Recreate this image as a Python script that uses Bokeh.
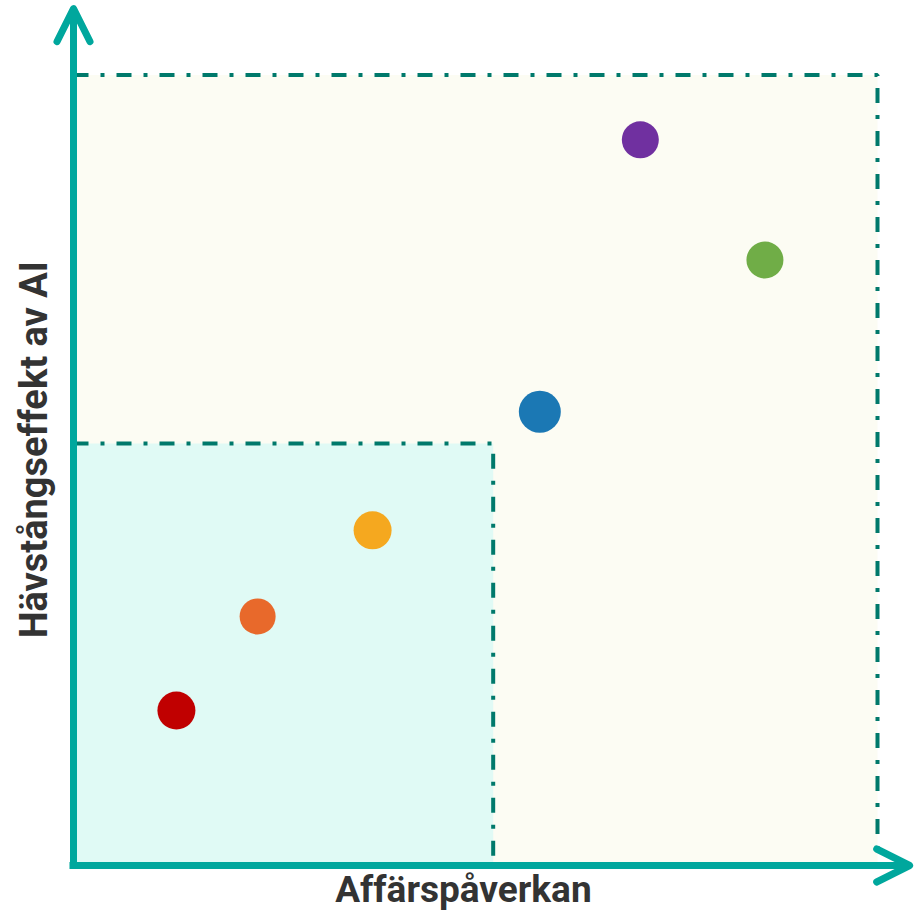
import math
from bokeh.plotting import figure
from bokeh.models import Range1d, Arrow, OpenHead, Label, ColumnDataSource
from bokeh.embed import file_html
from bokeh.resources import INLINE

# ---- data ----
x_vals = [12.8, 22.9, 37.2, 58.0, 70.5, 86.0]
y_vals = [19.6, 31.5, 42.4, 57.4, 91.8, 76.6]
sizes = [38, 36, 38, 42, 37, 37]
colors = ["#C00000", "#E8692B", "#F5A81F", "#1B78B4", "#7030A0", "#70AD47"]

outer_box = (0, 100, 0, 100)     # left, right, bottom, top
inner_box = (0, 52.2, 0, 53.4)
x_title = "Affärspåverkan"
y_title = "Hävstångseffekt av AI"

TEAL = "#00A79D"
DASH = "#00796B"

p = figure(width=914, height=915, output_backend="svg", toolbar_location=None,
           x_range=Range1d(-9.080, 104.602), y_range=Range1d(-6.325, 109.425),
           min_border=0)
p.axis.visible = False
p.grid.visible = False
p.outline_line_color = None
p.background_fill_color = "white"
p.border_fill_color = "white"

p.quad(left=[outer_box[0]], right=[outer_box[1]], bottom=[outer_box[2]], top=[outer_box[3]],
       fill_color="#FCFCF3", line_color=DASH, line_width=4, line_dash="15 12 4 12")
p.quad(left=[inner_box[0]], right=[inner_box[1]], bottom=[inner_box[2]], top=[inner_box[3]],
       fill_color="#E0FAF5", line_color=DASH, line_width=4, line_dash="15 12 4 12")

# axes with arrows
p.add_layout(Arrow(x_start=0, y_start=-0.1, x_end=0, y_end=108.4,
                   line_color=TEAL, line_width=7,
                   end=OpenHead(size=33, line_color=TEAL, line_width=7, line_cap="round", line_join="round")))
p.add_layout(Arrow(x_start=-0.5, y_start=0, x_end=104.0, y_end=0,
                   line_color=TEAL, line_width=7,
                   end=OpenHead(size=33, line_color=TEAL, line_width=7, line_cap="round", line_join="round")))

src = ColumnDataSource(dict(x=x_vals, y=y_vals, s=sizes, c=colors))
p.scatter("x", "y", size="s", fill_color="c", line_color=None, source=src)

p.add_layout(Label(x=48.5, y=-3.05, text=x_title, text_align="center", text_baseline="alphabetic",
                   text_font="Roboto", text_font_style="bold", text_font_size="37px", text_color="#333333"))
p.add_layout(Label(x=-4.9, y=52.6, text=y_title, angle=math.pi/2, text_align="center",
                   text_baseline="alphabetic",
                   text_font="Roboto", text_font_style="bold", text_font_size="38px", text_color="#333333"))

open("out.html", "w").write(file_html(p, INLINE))
